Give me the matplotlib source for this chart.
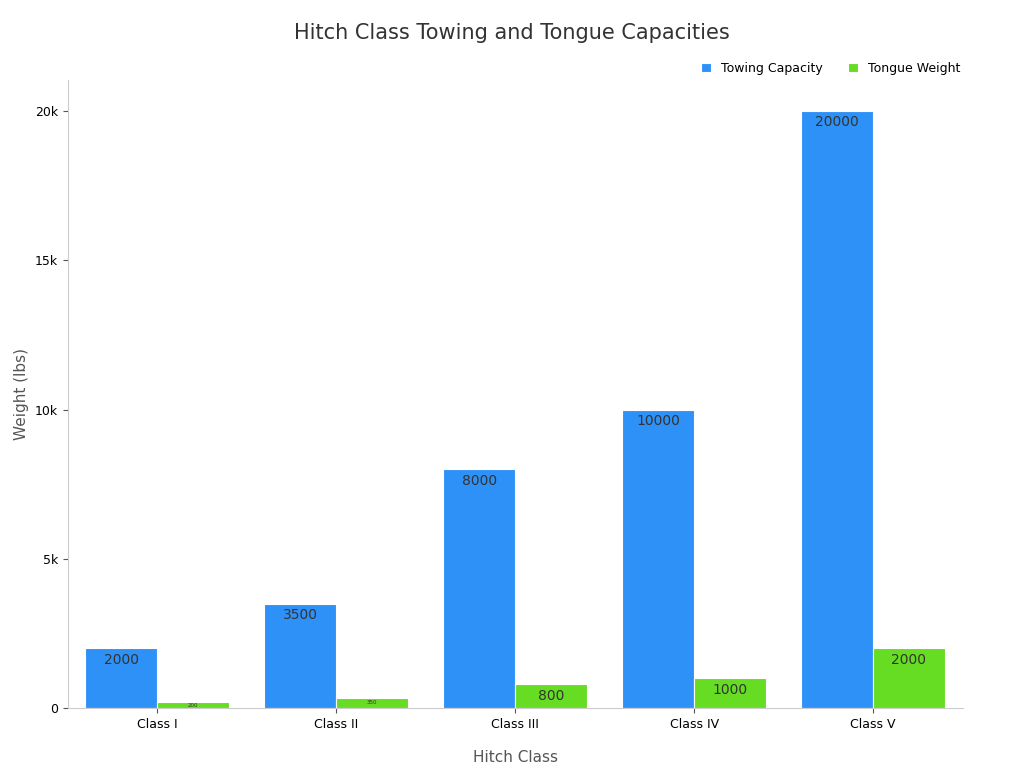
import matplotlib
matplotlib.use("Agg")
import matplotlib.pyplot as plt
import numpy as np
from matplotlib.ticker import FuncFormatter

categories = ["Class I", "Class II", "Class III", "Class IV", "Class V"]
towing = [2000, 3500, 8000, 10000, 20000]
tongue = [200, 350, 800, 1000, 2000]

fig = plt.figure(figsize=(10.24, 7.68), dpi=100)
ax = fig.add_axes([0.066, 0.078, 0.874, 0.818])
x = np.arange(len(categories))
w = 0.4
b1 = ax.bar(x - w/2, towing, w, color="#2e91f7", edgecolor="white", linewidth=0.8, label="Towing Capacity")
b2 = ax.bar(x + w/2, tongue, w, color="#66dd22", edgecolor="white", linewidth=0.8, label="Tongue Weight")
for bars in (b1, b2):
    for r in bars:
        h = r.get_height()
        fs = 10 if h >= 800 else 4
        ax.text(r.get_x() + r.get_width()/2, h - 150 if h >= 800 else h/2, f"{int(h)}",
                ha="center", va="top" if h >= 800 else "center", fontsize=fs, color="#333333")
ax.set_xlim(-0.5, 4.5)
ax.set_ylim(0, 21040)
ax.set_xticks(x)
ax.set_xticklabels(categories, fontsize=9)
ax.set_yticks([0, 5000, 10000, 15000, 20000])
ax.yaxis.set_major_formatter(FuncFormatter(lambda v, p: "0" if v == 0 else f"{int(v/1000)}k"))
ax.tick_params(labelsize=9, color="#555555")
for s in ["top", "right"]:
    ax.spines[s].set_visible(False)
for s in ["left", "bottom"]:
    ax.spines[s].set_color("#cccccc")
ax.set_xlabel("Hitch Class", fontsize=11, color="#555555", labelpad=14)
ax.set_ylabel("Weight (lbs)", fontsize=11, color="#555555")
fig.suptitle("Hitch Class Towing and Tongue Capacities", fontsize=15, color="#333333", y=0.97)
ax.legend(loc="lower right", bbox_to_anchor=(1.01, 0.99), ncol=2, frameon=False, fontsize=9,
          handlelength=0.8, handleheight=0.8, columnspacing=2)
fig.savefig("out.png", dpi=100)
